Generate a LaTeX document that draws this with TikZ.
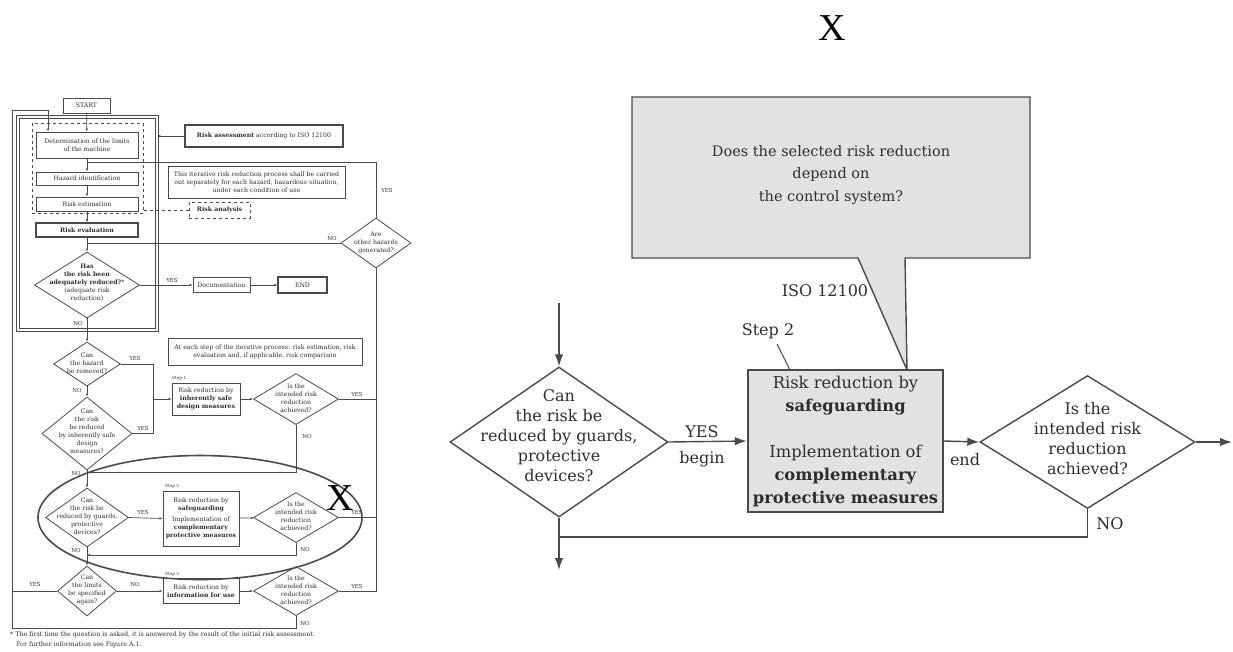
\documentclass[tikz,border=0pt]{standalone}
\usepackage{fontspec}
\setmainfont{DejaVu Serif}
\newfontfamily\xfont{Liberation Serif}
\usetikzlibrary{shapes.geometric,arrows.meta}
\definecolor{lc}{HTML}{4A4A4A}
\definecolor{tc}{HTML}{2E2E2E}
\definecolor{gfill}{HTML}{E2E2E2}
\newcommand\myLft{\fontsize{6.2}{8}\selectfont}
\newcommand\myLab{\fontsize{5.5}{6}\selectfont}
\newcommand\myR{\fontsize{16}{20}\selectfont}
\begin{document}
\begin{tikzpicture}[x=1pt,y=-1pt,
  rl/.style={draw=lc, line width=1.4pt},
  ra/.style={rl, -{Latex[length=12pt,width=8.5pt]}},
  ll/.style={draw=lc, line width=0.7pt},
  la/.style={ll, -{Latex[length=3pt,width=2.4pt]}},
  lbox/.style={draw=lc, line width=0.8pt, rectangle, inner sep=0pt, align=center, font=\myLft, text=tc},
  ldia/.style={draw=lc, line width=0.8pt, diamond, inner sep=0pt},
  ltxt/.style={font=\myLft, align=center, text=tc, inner sep=0pt},
  llab/.style={font=\myLab, text=tc, inner sep=0pt},
  rdia/.style={draw=lc, line width=1.4pt, diamond, inner sep=0pt},
  rtxt/.style={font=\myR, align=center, text=tc, inner sep=0pt},
  bigx/.style={font=\xfont\fontsize{38}{38}\selectfont, text=black, inner sep=0pt}
]
\useasboundingbox (0,0) rectangle (1233,651);

% ================= LEFT FLOWCHART =================
\node[lbox, minimum width=139pt, minimum height=213pt, double, double distance=2pt, line width=0.7pt] (frame) at (87.5,223.5) {};
\node[lbox, dashed, minimum width=111pt, minimum height=90pt] (rafr) at (87.5,168) {};
\node[lbox, minimum width=47pt, minimum height=15pt] (start) at (86.5,105.5) {START};
\node[lbox, minimum width=102pt, minimum height=26pt] (det) at (87,145) {Determination of the limits\\of the machine};
\node[lbox, minimum width=102pt, minimum height=13pt] (haz) at (87,178.5) {Hazard identification};
\node[lbox, minimum width=102pt, minimum height=14pt] (est) at (87,204) {Risk estimation};
\node[lbox, minimum width=102pt, minimum height=14pt, line width=1.2pt] (evl) at (87,230) {\textbf{Risk evaluation}};
\node[lbox, minimum width=158pt, minimum height=22pt, line width=1.3pt] (rass) at (264,136) {\textbf{Risk assessment} according to ISO 12100};
\node[lbox, minimum width=177pt, minimum height=32pt] (iter) at (256.5,182) {This iterative risk reduction process shall be carried\\out separately for each hazard, hazardous situation,\\under each condition of use};
\node[lbox, dashed, minimum width=61pt, minimum height=16pt] (ranal) at (219.5,210) {\textbf{Risk analysis}};

\node[ldia, minimum width=105pt, minimum height=66pt] (dhas) at (87,285) {};
\node[ltxt] (dhast) at (87,283) {\textbf{Has}\\\textbf{the risk been}\\\textbf{adequately reduced?}*\\(adequate risk\\reduction)};
\node[lbox, minimum width=57pt, minimum height=15pt] (doc) at (221.5,285) {Documentation};
\node[lbox, minimum width=49pt, minimum height=16pt, line width=1.1pt] (endn) at (302.5,285) {END};

\node[ldia, minimum width=70pt, minimum height=50pt] (dother) at (376,243) {};
\node[ltxt] (dothert) at (376,243) {Are\\other hazards\\generated?};

\node[ldia, minimum width=67pt, minimum height=44pt] (dhaz) at (87,364) {};
\node[ltxt] (dhazt) at (87,363) {Can\\the hazard\\be removed?};
\node[lbox, minimum width=194pt, minimum height=27pt] (each) at (265,351.5) {At each step of the iterative process: risk estimation, risk\\evaluation and, if applicable, risk comparison};

\node[ldia, minimum width=90pt, minimum height=73pt] (dinh) at (87,433.5) {};
\node[ltxt] (dinht) at (87,431) {Can\\the risk\\be reduced\\by inherently safe\\design\\measures?};

\node[lbox, minimum width=68pt, minimum height=32pt] (s1) at (206,399) {Risk reduction by\\\textbf{inherently safe}\\\textbf{design measures}};
\node[llab, anchor=south west] (s1l) at (172,381) {\fontsize{4.2}{4.2}\selectfont Step 1};
\node[ldia, minimum width=85pt, minimum height=51pt] (dach1) at (296,399) {};
\node[ltxt] (dach1t) at (296,398) {Is the\\intended risk\\reduction\\achieved?};

\node[ldia, minimum width=83pt, minimum height=59pt] (dgu) at (87,517.5) {};
\node[ltxt] (dgut) at (87,516) {Can\\the risk be\\reduced by guards,\\protective\\devices?};
\node[lbox, minimum width=76pt, minimum height=55pt] (s2) at (201,518.5) {Risk reduction by\\\textbf{safeguarding}\\[3pt]Implementation of\\\textbf{complementary}\\\textbf{protective measures}};
\node[llab, anchor=south west] (s2l) at (165,489) {\fontsize{4.2}{4.2}\selectfont Step 2};
\node[ldia, minimum width=85pt, minimum height=50pt] (dach2) at (296,517.5) {};
\node[ltxt] (dach2t) at (296,516.5) {Is the\\intended risk\\reduction\\achieved?};

\node[ldia, minimum width=59pt, minimum height=50pt] (dlim) at (87,591) {};
\node[ltxt] (dlimt) at (87,590) {Can\\the limits\\be specified\\again?};
\node[lbox, minimum width=76pt, minimum height=25pt] (s3) at (201,591) {Risk reduction by\\\textbf{information for use}};
\node[llab, anchor=south west] (s3l) at (165,577) {\fontsize{4.2}{4.2}\selectfont Step 3};
\node[ldia, minimum width=85pt, minimum height=49pt] (dach3) at (296,591) {};
\node[ltxt] (dach3t) at (296,590) {Is the\\intended risk\\reduction\\achieved?};

\node[draw=lc, line width=1.6pt, ellipse, minimum width=324pt, minimum height=124pt, inner sep=0pt] (ell) at (200,517.5) {};
\node[bigx] (xl) at (340,498) {X};

% coordinates
\coordinate (c1) at (87,162);
\coordinate (j1) at (153,399);
\coordinate (j2) at (87,472);
\coordinate (j3) at (87,555);
\coordinate (lp1) at (12,110);
\coordinate (lp2) at (48,110);
\coordinate (lp0) at (12,628);

% left connectors
\draw[la] (start) -- (det);
\draw[la] (det) -- (haz);
\draw[la] (haz) -- (est);
\draw[la] (est) -- (evl);
\draw[la] (evl) -- (dhas.north);
\draw[la] (rass.west) -- (rass.west -| frame.east);
\draw[ll, dashed] (ranal.west) -- (ranal.west -| rafr.east);
\draw[ll] (dother.north) |- (c1);
\draw[ll] (dother.west) -- (dother.west -| dhas.north);
\draw[la] (dhas.east) -- (doc.west);
\draw[la] (doc) -- (endn);
\draw[la] (dhas.south) -- (dhaz.north);
\draw[ll] (dhaz.east) -| (j1);
\draw[ll] (dinh.east) -| (j1);
\draw[la] (j1) -- (s1.west);
\draw[la] (dhaz.south) -- (dinh.north);
\draw[la] (s1) -- (dach1);
\draw[ll] (dach1.east) -- (dach1.east -| dother.south);
\draw[ll] (dach1.south) |- (j2);
\draw[la] (dinh.south) -- (dgu.north);
\draw[la] (dgu.east) -- (s2.west);
\draw[la] (s2) -- (dach2);
\draw[ll] (dach2.east) -- (dach2.east -| dother.south);
\draw[la] (dach2.south) |- (j3);
\draw[la] (dgu.south) -- (dlim.north);
\draw[ll] (dlim.west) -| (lp1) -- (lp2);
\draw[la] (lp2) -- (lp2 |- det.north);
\draw[la] (dlim.east) -- (s3.west);
\draw[la] (s3) -- (dach3);
\draw[ll] (dach3.east) -| (dother.south);
\draw[ll] (dach3.south) |- (lp0) -- (lp1);

% left labels
\node[llab] (n1) at (332,238) {NO};
\node[llab] (n2) at (387,190) {YES};
\node[llab] (n3) at (172,280) {YES};
\node[llab] (n4) at (78,323) {NO};
\node[llab] (n5) at (135,358) {YES};
\node[llab] (n6) at (77,390) {NO};
\node[llab] (n7) at (143,428) {YES};
\node[llab] (n8) at (357,394) {YES};
\node[llab] (n9) at (307,436) {NO};
\node[llab] (n10) at (76,473) {NO};
\node[llab] (n11) at (143,512) {YES};
\node[llab] (n12) at (357,512) {YES};
\node[llab] (n13) at (305,549) {NO};
\node[llab] (n14) at (76,550) {NO};
\node[llab] (n15) at (35,584) {YES};
\node[llab] (n16) at (135,584) {NO};
\node[llab] (n17) at (357,586) {YES};
\node[llab] (n18) at (305,623) {NO};

\node[llab, anchor=west, font=\fontsize{6.3}{7}\selectfont] (fn1) at (10,635) {* The first time the question is asked, it is answered by the result of the initial risk assessment.};
\node[llab, anchor=west, font=\fontsize{6.3}{7}\selectfont] (fn2) at (16,645) {For further information see Figure A.1.};

% ================= RIGHT DIAGRAM =================
\node[bigx] (xr) at (832,28) {X};

\path[fill=gfill, draw=lc, line width=1.4pt, line join=miter]
  (632,97) -- (1030,97) -- (1030,258) -- (905,258) -- (907,370) -- (858,258) -- (632,258) -- cycle;
\node[rtxt, font=\fontsize{14.5}{22.5}\selectfont] (callt) at (831,175) {Does the selected risk reduction\\depend on\\the control system?};

\node[draw=lc, line width=2.4pt, fill=gfill, minimum width=195pt, minimum height=142pt, inner sep=0pt] (step2) at (845.5,441) {};
\node[rtxt, font=\fontsize{16.3}{23}\selectfont] (step2t) at (845.5,441) {Risk reduction by\\\textbf{safeguarding}\\[23pt]Implementation of\\\textbf{complementary}\\\textbf{protective measures}};

\node[rdia, minimum width=218pt, minimum height=150pt] (rd1) at (559,442) {};
\node[rtxt, yshift=6pt] (rd1t) at (559,442) {Can\\the risk be\\reduced by guards,\\protective\\devices?};

\node[rdia, minimum width=215pt, minimum height=133pt] (rd2) at (1087.5,442) {};
\node[rtxt, yshift=3pt] (rd2t) at (1087.5,442) {Is the\\intended risk\\reduction\\achieved?};

\node[rtxt] (iso) at (825,291) {ISO 12100};
\node[rtxt] (s2lab) at (768,331) {Step 2};

\coordinate (rin) at (559,303);
\coordinate (rdown) at (559,570);
\coordinate (rj) at (559,537);
\coordinate (rout) at (1232,442);
\coordinate (ldr) at (790,370);
\coordinate (ldrs) at (777,344);

\draw[ra] (rin) -- (rd1.north);
\draw[ra] (rd1.east) -- (step2.west);
\draw[ra] (step2.east) -- (rd2.west);
\draw[ra] (rd2.east) -- (rout);
\draw[ra] (rd1.south) -- (rdown);
\draw[rl] (rd2.south) |- (rj);
\draw[lc, line width=1.1pt] (ldrs) -- (ldr);

\node[rtxt] (yes) at (702,432) {YES};
\node[rtxt] (beg) at (702,459) {begin};
\node[rtxt] (endl) at (965,460) {end};
\node[rtxt] (nol) at (1110,524) {NO};
\end{tikzpicture}
\end{document}
